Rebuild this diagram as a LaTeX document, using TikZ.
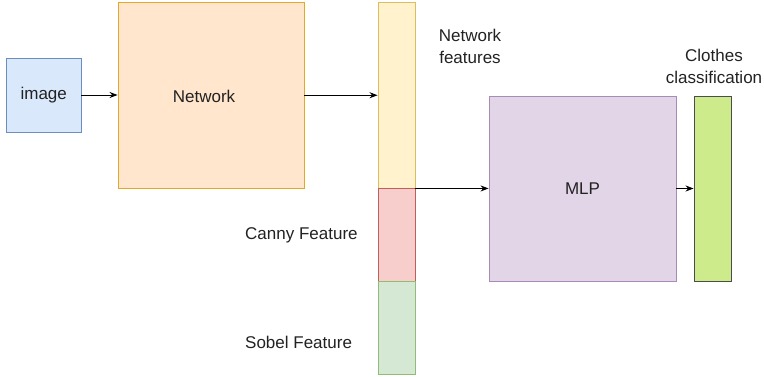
\documentclass[tikz,border=0pt]{standalone}
\usepackage{fontspec}
\setmainfont{Liberation Sans}
\usetikzlibrary{arrows.meta}
\definecolor{imgfill}{HTML}{DAE8FC}\definecolor{imgline}{HTML}{6C8EBF}
\definecolor{netfill}{HTML}{FFE6CC}\definecolor{netline}{HTML}{E0A92A}
\definecolor{featfill}{HTML}{FFF2CC}\definecolor{featline}{HTML}{DDBE5E}
\definecolor{cannyfill}{HTML}{F8CECC}\definecolor{cannyline}{HTML}{C05E5A}
\definecolor{sobelfill}{HTML}{D5E8D4}\definecolor{sobelline}{HTML}{90BD76}
\definecolor{mlpfill}{HTML}{E1D5E7}\definecolor{mlpline}{HTML}{A98BB8}
\definecolor{outfill}{HTML}{CDEB8B}\definecolor{outline}{HTML}{4A4D50}
\definecolor{txt}{HTML}{222222}
\tikzset{
  box/.style={rectangle, inner sep=0pt, line width=0.9pt, text=txt,
    font=\fontsize{17}{21}\selectfont},
  lbl/.style={inner sep=0pt, text=txt, align=center,
    font=\fontsize{17}{22}\selectfont},
  link/.style={draw=black, line width=0.9pt, -{Stealth[length=8pt,width=6pt]}}
}
\begin{document}
\begin{tikzpicture}[x=1pt,y=-1pt]
\useasboundingbox (0,0) rectangle (764,377);
% input and backbone
\node[box, draw=imgline, fill=imgfill, minimum width=74.5pt, minimum height=74pt] (img) at (43.75,95) {image};
\node[box, draw=netline, fill=netfill, minimum width=186pt, minimum height=185.5pt] (net) at (211,95.25) {};
\node[lbl] (nettext) at (204,96) {Network};
% concatenated feature vector
\node[box, draw=featline, fill=featfill, minimum width=37pt, minimum height=186pt] (feat) at (396.5,95) {};
\node[box, draw=cannyline, fill=cannyfill, minimum width=37pt, minimum height=93pt] (canny) at (396.5,234.5) {};
\node[box, draw=sobelline, fill=sobelfill, minimum width=37pt, minimum height=93pt] (sobel) at (396.5,327.5) {};
% classifier
\node[box, draw=mlpline, fill=mlpfill, minimum width=187pt, minimum height=185pt] (mlp) at (582.5,188.5) {MLP};
\node[box, draw=outline, fill=outfill, minimum width=37pt, minimum height=185pt] (out) at (712.5,188.5) {};
% labels
\node[lbl] (featlbl) at (470,46) {Network\\features};
\node[lbl] (outlbl) at (714,66) {Clothes\\classification};
\node[lbl, anchor=west] (cannylbl) at (245,235) {Canny Feature};
\node[lbl, anchor=west] (sobellbl) at (245,342) {Sobel Feature};
% connectors
\draw[link] (img.east) -- (img.east -| net.west);
\draw[link] (net.east) -- (net.east -| feat.west);
\draw[link] (feat.south east) -- (feat.south east -| mlp.west);
\draw[link] (mlp.east) -- (out.west |- mlp.east);
\end{tikzpicture}
\end{document}
